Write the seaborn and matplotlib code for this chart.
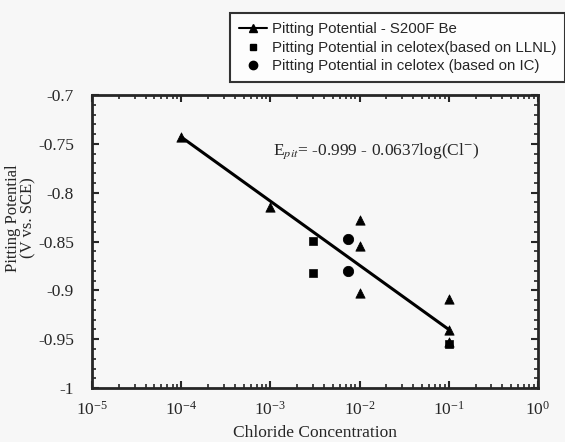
import pandas as pd
import numpy as np
import matplotlib
matplotlib.use("Agg")
import matplotlib.pyplot as plt
import matplotlib.ticker as mticker
from matplotlib.lines import Line2D
import seaborn as sns

# values
s200f_conc = [1e-4, 1e-3, 1e-2, 1e-2, 1e-2, 1e-1, 1e-1, 1e-1]
s200f_pot = [-0.743, -0.815, -0.828, -0.855, -0.903, -0.909, -0.941, -0.953]

llnl_conc = [3e-3, 3e-3, 1e-1]
llnl_pot = [-0.849, -0.882, -0.955]

ic_conc = [7.5e-3, 7.5e-3]
ic_pot = [-0.847, -0.880]

fit_conc = [1e-4, 1e-1]
fit_pot = [-0.743, -0.940]

labels = ["Pitting Potential - S200F Be",
          "Pitting Potential in celotex(based on LLNL)",
          "Pitting Potential in celotex (based on IC)"]
equation = r"E$_{pit}$= -0.999 - 0.0637log(Cl$^{-}$)"

sns.set_style("ticks")
plt.rcParams["font.family"] = ["Liberation Serif", "DejaVu Serif"]
plt.rcParams["mathtext.fontset"] = "stix"
bg = "#f7f7f7"

fig = plt.figure(figsize=(5.65, 4.42), dpi=100, facecolor=bg)
ax = fig.add_axes([0.163, 0.122, 0.789, 0.663], facecolor=bg)

df_s = pd.DataFrame({"conc": s200f_conc, "pot": s200f_pot})
df_l = pd.DataFrame({"conc": llnl_conc, "pot": llnl_pot})
df_i = pd.DataFrame({"conc": ic_conc, "pot": ic_pot})
df_f = pd.DataFrame({"conc": fit_conc, "pot": fit_pot})

sns.lineplot(data=df_f, x="conc", y="pot", color="black", lw=2.2, ax=ax, legend=False)
sns.scatterplot(data=df_s, x="conc", y="pot", marker="^", s=45, color="black",
                edgecolor="black", ax=ax, legend=False, zorder=3)
sns.scatterplot(data=df_l, x="conc", y="pot", marker="s", s=35, color="black",
                edgecolor="black", ax=ax, legend=False, zorder=3)
sns.scatterplot(data=df_i, x="conc", y="pot", marker="o", s=55, color="black",
                edgecolor="black", ax=ax, legend=False, zorder=3)

ax.set_xscale("log")
ax.set_xlim(1e-5, 1)
ax.set_ylim(-1, -0.7)
ax.yaxis.set_major_locator(mticker.MultipleLocator(0.05))
ax.yaxis.set_minor_locator(mticker.MultipleLocator(0.01))
ax.yaxis.set_major_formatter(mticker.FuncFormatter(lambda v, p: "%g" % round(v, 3)))
ax.xaxis.set_minor_locator(mticker.LogLocator(base=10, subs=np.arange(2, 10)))
ax.xaxis.set_minor_formatter(mticker.NullFormatter())

ax.tick_params(which="both", direction="in", top=True, right=True, labelsize=12.5)
ax.tick_params(which="major", length=5, width=1.5)
ax.tick_params(which="minor", length=3, width=1.2)
ax.tick_params(axis="y", pad=13)
ax.tick_params(axis="x", pad=9)
for sp in ax.spines.values():
    sp.set_linewidth(2)
    sp.set_visible(True)

ax.set_xlabel("Chloride Concentration", fontsize=12.5, labelpad=5)
ax.set_ylabel("Pitting Potential\n(V vs. SCE)", fontsize=12, linespacing=0.95)
ax.yaxis.set_label_coords(-0.124, 0.58)

ax.text(1.07e-3, -0.758, equation, fontsize=12.5, ha="left", va="center")

handles = [Line2D([], [], color="black", lw=1.5, marker="^", markersize=6),
           Line2D([], [], color="black", lw=0, marker="s", markersize=5),
           Line2D([], [], color="black", lw=0, marker="o", markersize=6)]
leg = fig.legend(handles, labels, loc="upper left", bbox_to_anchor=(0.407, 0.97),
                 frameon=True, fancybox=False, edgecolor="black", facecolor="white",
                 prop={"family": "Liberation Sans", "size": 10.8}, handlelength=1.9,
                 handletextpad=0.3, borderpad=0.6, labelspacing=0.3, borderaxespad=0)
leg.get_frame().set_linewidth(1.5)

fig.savefig("out.png", dpi=100, facecolor=bg)
